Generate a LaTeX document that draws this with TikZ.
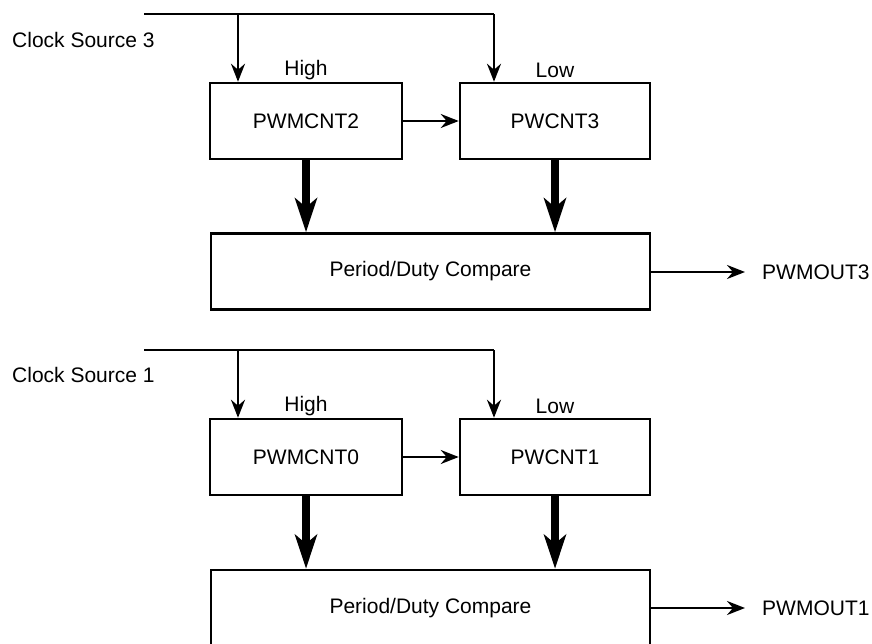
\documentclass[tikz,border=0pt]{standalone}
\usepackage{fontspec}
\setmainfont{Liberation Sans}
\usetikzlibrary{arrows.meta}
\begin{document}
\begin{tikzpicture}[x=1pt,y=-1pt,
  every node/.style={font=\fontsize{21}{25}\selectfont, inner sep=0pt},
  blk/.style={draw, line width=2.5pt, minimum height=76pt},
  thin/.style={line width=2.5pt, -{Stealth[length=18pt,width=14pt,inset=6pt]}},
  line/.style={line width=2.5pt},
  thick/.style={line width=8pt, -{Stealth[length=34pt,width=22pt,inset=9pt]}},
  lbl/.style={anchor=west}]
\useasboundingbox (0,0) rectangle (872,643);
% ---------- upper unit ----------
\node[blk, minimum width=192pt] (c2) at (306,121) {PWMCNT2};
\node[blk, minimum width=190pt] (c3) at (555,121) {PWCNT3};
\node[blk, minimum width=439pt] (cmpA) at (430.5,271.5) {Period/Duty Compare};
\node[lbl] (csA) at (12,40) {Clock Source 3};
\node (hiA) at (306,70) {High};
\node (loA) at (555,70) {Low};
\node[lbl] (outA) at (762,272) {PWMOUT3};
\coordinate (sA) at (144,14);
\coordinate (kA) at (494,14);
\coordinate (bA) at (238,14);
\draw[line] (sA) -- (kA);
\draw[thin] (kA) -- (kA |- c3.north);
\draw[thin] (bA) -- (bA |- c2.north);
\draw[thin] (c2.east) -- (c3.west);
\draw[thick] (c2.south) -- (c2.south |- cmpA.north);
\draw[thick] (c3.south) -- (c3.south |- cmpA.north);
\draw[thin] (cmpA.east |- outA) -- ([xshift=-17pt]outA.west);
% ---------- lower unit ----------
\node[blk, minimum width=192pt] (c0) at (306,457) {PWMCNT0};
\node[blk, minimum width=190pt] (c1) at (555,457) {PWCNT1};
\node[blk, minimum width=439pt] (cmpB) at (430.5,608) {Period/Duty Compare};
\node[lbl] (csB) at (12,375) {Clock Source 1};
\node (hiB) at (306,406) {High};
\node (loB) at (555,406) {Low};
\node[lbl] (outB) at (762,608) {PWMOUT1};
\coordinate (sB) at (144,350);
\coordinate (kB) at (494,350);
\coordinate (bB) at (238,350);
\draw[line] (sB) -- (kB);
\draw[thin] (kB) -- (kB |- c1.north);
\draw[thin] (bB) -- (bB |- c0.north);
\draw[thin] (c0.east) -- (c1.west);
\draw[thick] (c0.south) -- (c0.south |- cmpB.north);
\draw[thick] (c1.south) -- (c1.south |- cmpB.north);
\draw[thin] (cmpB.east |- outB) -- ([xshift=-17pt]outB.west);
\end{tikzpicture}
\end{document}
